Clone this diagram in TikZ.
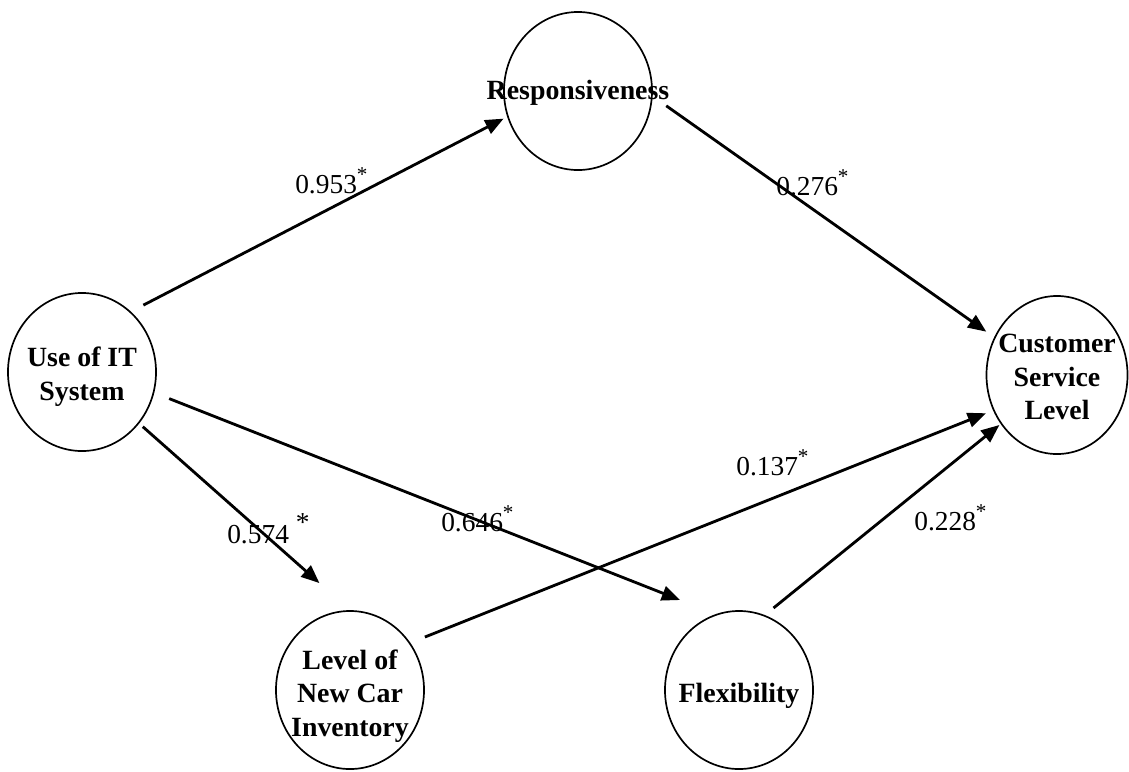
\documentclass[tikz,border=0pt]{standalone}
\usepackage{fontspec}
\setmainfont{Liberation Serif}
\usetikzlibrary{shapes.geometric,arrows.meta}
\newcommand{\sig}{\raisebox{0.42em}{\fontsize{15}{15}\selectfont*}}
\begin{document}
\begin{tikzpicture}[x=0.025cm, y=-0.025cm,
        construct/.style={draw, ellipse, line width=1.2pt, minimum width=3.7cm, minimum height=3.95cm, inner sep=0pt},
        ctext/.style={font=\fontsize{19.8}{24}\selectfont\bfseries, align=center, inner sep=0pt, yshift=-0.11cm},
        effect/.style={line width=2pt, -{Triangle[length=13pt,width=10.5pt]}},
        coef/.style={font=\fontsize{19.5}{23}\selectfont, anchor=base west, inner sep=0pt}]
            \useasboundingbox (0,0) rectangle (1129,771);
            \node[construct, label={[ctext]center:{Use of IT\\System}}] (it) at (82,372) {};
            \node[construct, label={[ctext, yshift=0.06cm]center:Responsiveness}] (resp) at (578,91) {};
            \node[construct, minimum width=3.525cm, label={[ctext, yshift=0.06cm]center:{Customer\\Service\\Level}}] (csl) at (1057,375) {};
            \node[construct, label={[ctext, yshift=-0.04cm]center:{Level of\\New Car\\Inventory}}] (inv) at (350,690) {};
            \node[construct, label={[ctext, yshift=-0.04cm]center:Flexibility}] (flex) at (739,690) {};
            \draw[effect, shorten <=0.35cm, shorten >=0.1cm] (it.51.3) -- (resp.200);
            \draw[effect, shorten <=0.415cm, shorten >=0.24cm] (resp.356.6) -- (csl.149.6);
            \draw[effect, shorten <=0.4cm, shorten >=0.96cm] (it.344.4) -- (flex.107.1);
            \draw[effect, shorten <=0.12cm, shorten >=1.02cm] (it.318.5) -- (inv.90);
            \draw[effect, shorten <=0.39cm, shorten >=0.19cm] (inv.38) -- (csl.209.2);
            \draw[effect, shorten <=0.28cm, shorten >=0.04cm] (flex.71.3) -- (csl.221.8);
            \node[coef] (b1) at (295,193) {0.953\sig};
            \node[coef] (b2) at (776,195) {0.276\sig};
            \node[coef] (b3) at (227,543) {0.574 \raisebox{0.43em}{*}};
            \node[coef] (b4) at (441,531) {0.646\sig};
            \node[coef] (b5) at (736,475) {0.137\sig};
            \node[coef] (b6) at (914,530) {0.228\sig};
        \end{tikzpicture}
\end{document}
